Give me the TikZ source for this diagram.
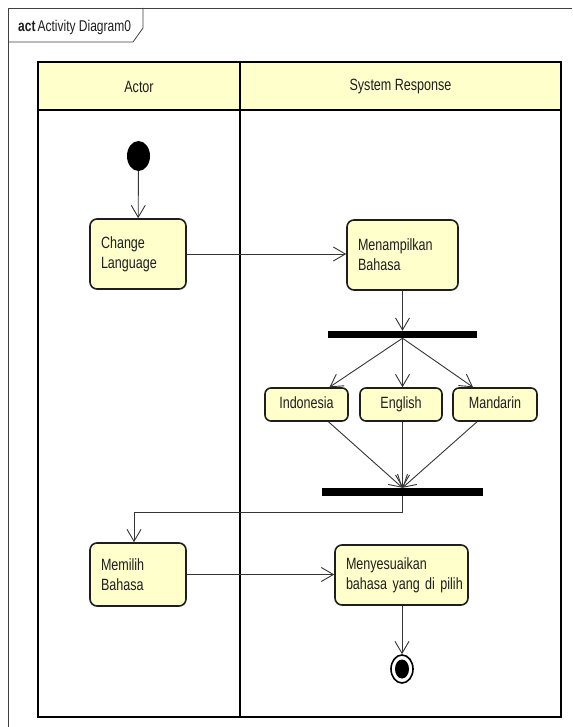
\documentclass[tikz,border=0pt]{standalone}
\usepackage{fontspec}
\setmainfont{Liberation Sans}[FakeStretch=0.77]
\usetikzlibrary{arrows.meta,shapes.geometric}
\definecolor{actfill}{HTML}{FFFFCC}
\definecolor{ink}{HTML}{1E1E1E}

\begin{document}
\begin{tikzpicture}[x=1pt,y=-1pt,
  every node/.style={font=\fontsize{16.3}{20}\selectfont, text=ink},
  flow/.style={draw=ink!90, line width=0.9pt,
    -{Straight Barb[length=12pt,width=14pt,line width=0.9pt]}},
  actbox/.style={draw=ink, line width=1.6pt, fill=actfill, rounded corners=7pt,
    align=left, inner xsep=11pt, inner ysep=0pt},
  choice/.style={draw=ink, line width=1.6pt, fill=actfill, rounded corners=6pt,
    minimum height=33pt, inner xsep=0pt, inner ysep=0pt,
    text height=11.5pt, text depth=3.5pt},
  bar/.style={fill=black, draw=none, inner sep=0pt},
  lane/.style={draw=black, line width=1.8pt},
  startdot/.style={ellipse, fill=black, inner sep=0pt},
]
\useasboundingbox (0,0) rectangle (572,727);
\fill[white] (0,0) rectangle (572,727);

% diagram frame and its name tab
\draw[line width=0.8pt, draw=ink!85] (8,727) -- (8,8) -- (572,8);
\draw[line width=0.8pt, draw=ink!85] (8,42) -- (133,42) -- (143,28) -- (143,8);
\node[anchor=west, inner sep=0pt, font=\fontsize{15.6}{18}\selectfont] (title) at (18,27)
  {\textbf{act}\hspace{2pt}Activity Diagram0};

% swimlanes
\fill[actfill] (38,62) rectangle (561,110);
\draw[lane] (38,62) rectangle (561,717);
\draw[lane] (38,110) -- (561,110);
\draw[lane] (240,62) -- (240,717);
\node (actorhdr) at (139,87) {Actor};
\node (syshdr) at (400.5,87) {System Response};

% activity nodes
\node[startdot, minimum width=23pt, minimum height=30pt] (start) at (138.5,156) {};
\node[actbox, text width=74pt, minimum height=70pt] (change) at (138,254) {Change\\Language};
\node[actbox, text width=89pt, minimum height=70pt] (show) at (402.5,255) {Menampilkan\\Bahasa};
\node[bar, minimum width=149pt, minimum height=7pt] (fork) at (402.5,334.5) {};
\node[choice, minimum width=83pt] (indo) at (306.5,404.5) {Indonesia};
\node[choice, minimum width=82pt] (eng) at (401,404.5) {English};
\node[choice, minimum width=84pt] (mand) at (495,404.5) {Mandarin};
\node[bar, minimum width=161pt, minimum height=8pt] (join) at (402.5,492) {};
\node[actbox, text width=74pt, minimum height=63pt] (pick) at (138,574.5) {Memilih\\Bahasa};
\node[actbox, text width=111pt, minimum height=60pt] (adjust) at (401.5,575)
  {Menyesuaikan\\\mbox{bahasa yang di pilih}};
\node[ellipse, draw=black, line width=1.6pt, fill=white, minimum width=22pt,
  minimum height=28pt, inner sep=0pt] (end) at (402,669) {};
\node[startdot, minimum width=14pt, minimum height=19pt] (endcore) at (end.center) {};

% control flows
\draw[flow] (start) -- (change);
\draw[flow] (change.east) -- (change.east -| show.west);
\draw[flow] (show.south -| fork.north) -- (fork.north);
\draw[flow] (fork.south) -- ([xshift=23pt]indo.north);
\draw[flow] (fork.south) -- (fork.south |- eng.north);
\draw[flow] (fork.south) -- ([xshift=-22pt]mand.north);
\draw[flow] ([xshift=22pt]indo.south) -- (join.north);
\draw[flow] (eng.south -| join.north) -- (join.north);
\draw[flow] ([xshift=-18pt]mand.south) -- (join.north);
\draw[flow] (join.south) -- ++(0,16) -| ([xshift=-4pt]pick.north);
\draw[flow] (pick.east) -- (pick.east -| adjust.west);
\draw[flow] (adjust.south -| end.north) -- (end.north);
\end{tikzpicture}
\end{document}
